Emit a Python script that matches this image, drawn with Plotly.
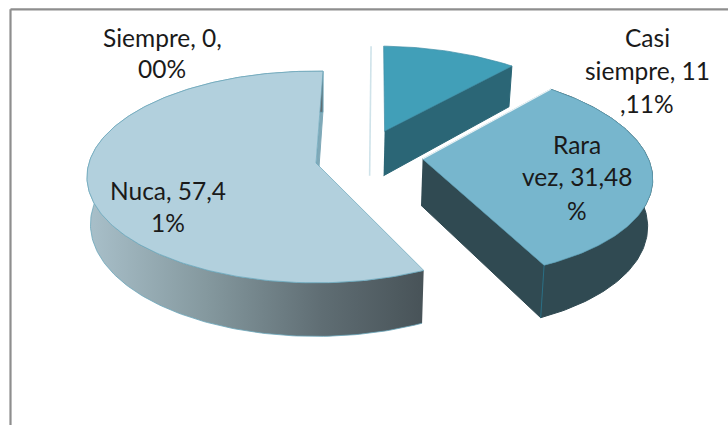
import numpy as np
import plotly.graph_objects as go

# ---- data ----
categories = ["Siempre", "Casi siempre", "Rara vez", "Nuca"]
percent_values = [0.00, 11.11, 31.48, 57.41]
label_lines = [
    ["Siempre, 0,", "00%"],
    ["Casi", "siempre, 11", ",11%"],
    ["Rara", "vez, 31,48", "%"],
    ["Nuca, 57,4", "1%"],
]

# ---- styling / projection of the tilted pie (pixels) ----
top_colors = ["#cfe3ea", "#419fb8", "#77b6cd", "#b2d0dd"]
side_colors = ["#cfe3ea", "#2b6676", "#304a52", "#7fa9b8"]
edge_colors = ["#cfe3ea", "#3f8ea6", "#5fa3ba", "#6aa6ba"]
cx, cy, R, A, k = 316.0, 163.0, 227.0, 104.0, 0.132
height, shrink = 46.5, 0.985
start_angle = 2.0
explode = [(0.25, 0.32), (0.315, 0.32), (0.472, 0.039), (0.0, 0.0)]
label_x = [162, 647, 577, 168]
label_y = [[37, 68], [37, 70, 103], [144, 176, 210], [190, 222]]
FONT = "Lato, Carlito, Calibri, sans-serif"
FONT_SIZE = 24.5


def project(u, v, low=False):
    s = 1.0 / (1.0 + k * v)
    x = cx + R * u * s
    y = cy - A * v * s
    if low:
        x = cx + (x - cx) * shrink
        y = y + height * s
    return x, y


def arc(offset, a0, a1, low=False):
    n = max(2, int(abs(a1 - a0)) + 2)
    t = np.radians(np.linspace(a0, a1, n))
    return project(offset[0] + np.sin(t), offset[1] + np.cos(t), low)


def poly(xs, ys, fill, line=None, width=1.0, **kw):
    return go.Scatter(
        x=list(xs), y=list(ys), mode="lines", fill="toself", fillcolor=fill,
        line=dict(color=line or fill, width=width), hoverinfo="skip",
        showlegend=False, **kw,
    )


edges = np.concatenate([[0.0], np.cumsum(percent_values)]) * 3.6 + start_angle
fig = go.Figure()

for i in range(len(categories)):
    off = explode[i]
    a0, a1 = edges[i], edges[i + 1]
    vx, vy = project(off[0], off[1])
    bx, by = project(off[0], off[1], low=True)
    ax, ay = arc(off, a0, a1)
    lx, ly = arc(off, a0, a1, low=True)

    if categories[i] == "Siempre":
        # zero-size slice: only its edge is visible
        fig.add_trace(go.Scatter(
            x=[ax[0], vx, bx], y=[ay[0], vy, by], mode="lines",
            line=dict(color=top_colors[i], width=1.6),
            hoverinfo="skip", showlegend=False))
        continue

    if categories[i] == "Nuca":
        # sliver of the start face, then the shaded outer wall
        fig.add_trace(poly([ax[-1], lx[-1], bx, vx], [ay[-1], ly[-1], by, vy], side_colors[i]))
        fig.add_trace(poly(
            np.r_[ax, lx[::-1]], np.r_[ay, ly[::-1]], "#8a9aa2", line=edge_colors[i], width=0.8,
            fillgradient=dict(type="horizontal", colorscale=[
                [0.0, "#a9c0ca"], [0.35, "#85999f"], [0.7, "#5f6d73"], [1.0, "#485358"]]),
        ))
    elif categories[i] == "Casi siempre":
        # radial face at the end of the slice
        fig.add_trace(poly([vx, ax[-1], lx[-1], bx], [vy, ay[-1], ly[-1], by], side_colors[i]))
    else:
        fig.add_trace(poly(np.r_[ax, lx[::-1]], np.r_[ay, ly[::-1]], side_colors[i]))
        fig.add_trace(poly([vx, ax[-1], lx[-1], bx], [vy, ay[-1], ly[-1], by], side_colors[i]))
        fig.add_trace(go.Scatter(
            x=[ax[-1], lx[-1]], y=[ay[-1], ly[-1]], mode="lines",
            line=dict(color="#2a6f85", width=1), hoverinfo="skip", showlegend=False))

    fig.add_trace(poly(np.r_[vx, ax, vx], np.r_[vy, ay, vy], top_colors[i], line=edge_colors[i], width=0.7))
    if categories[i] == "Rara vez":
        fig.add_trace(go.Scatter(
            x=[vx, ax[0]], y=[vy, ay[0]], mode="lines",
            line=dict(color="#e8f2f5", width=1.2), hoverinfo="skip", showlegend=False))

for x, ys, lines in zip(label_x, label_y, label_lines):
    for y, text in zip(ys, lines):
        fig.add_annotation(x=x, y=y, text=text, showarrow=False, xanchor="center", yanchor="middle",
                           font=dict(family=FONT, size=FONT_SIZE, color="#1a1a1a"))

frame = dict(color="#8e8e8e", width=2.2)
fig.update_layout(
    width=728, height=425, margin=dict(l=0, r=0, t=0, b=0),
    paper_bgcolor="white", plot_bgcolor="white", showlegend=False,
    xaxis=dict(range=[0, 728], visible=False, fixedrange=True),
    yaxis=dict(range=[425, 0], visible=False, fixedrange=True),
    shapes=[
        dict(type="line", x0=10.5, x1=10.5, y0=9.3, y1=425, line=frame, layer="below"),
        dict(type="line", x0=10.5, x1=728, y0=9.3, y1=9.3, line=frame, layer="below"),
    ],
)
fig.write_html("out.html", config={"displayModeBar": False},
               post_script="document.body.style.margin='0';document.body.style.overflow='hidden';")
